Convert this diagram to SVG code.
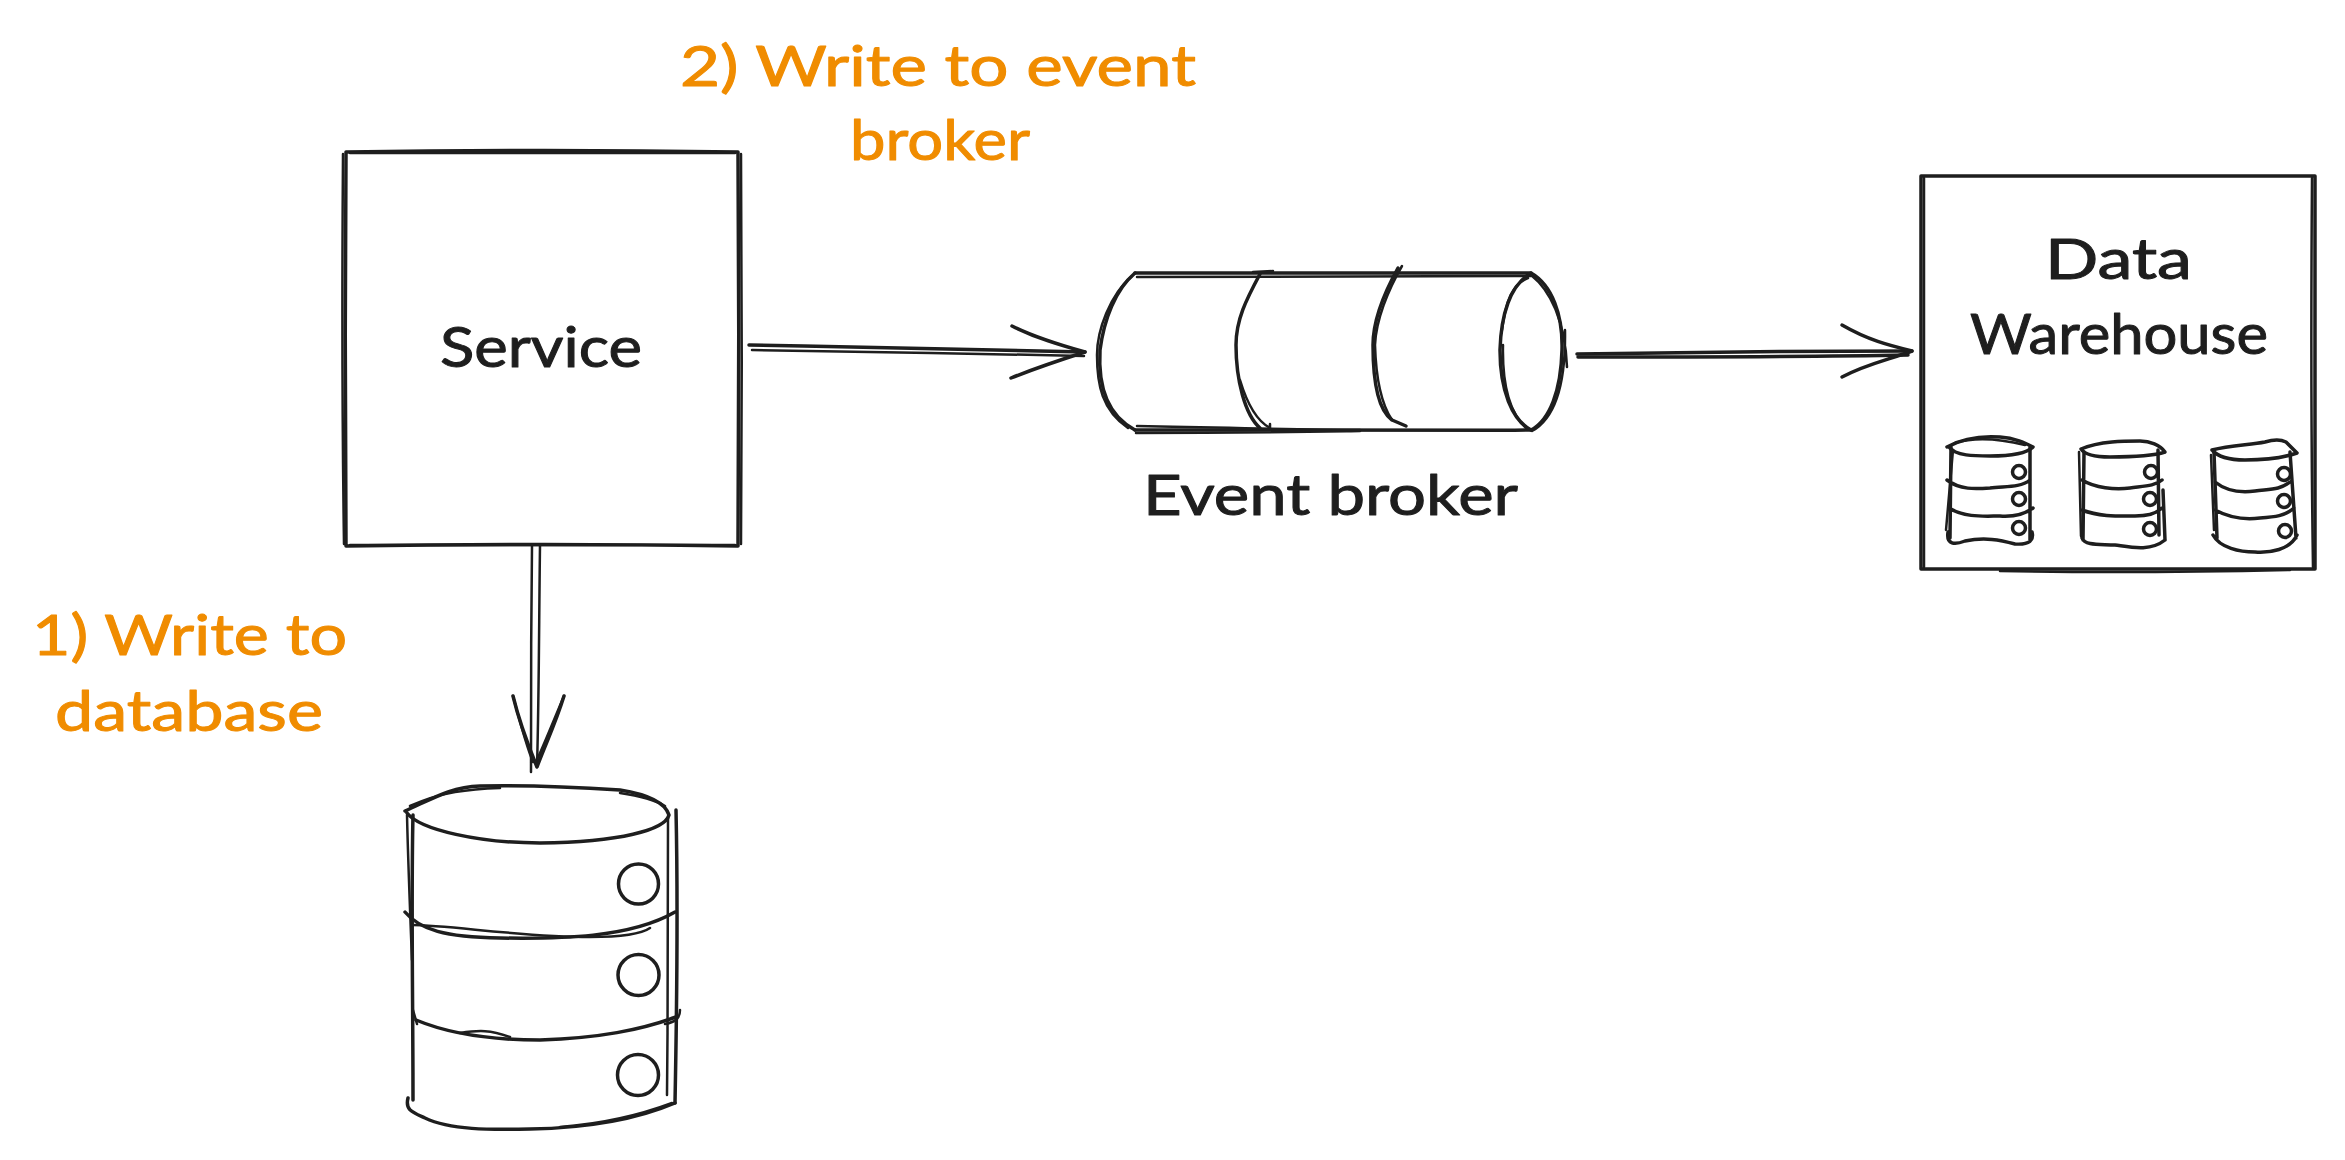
<svg xmlns="http://www.w3.org/2000/svg" width="2345" height="1160" viewBox="0 0 2345 1160">
<style>
.s{fill:none;stroke:#1e1e1e;stroke-width:3.500;stroke-linecap:round;stroke-linejoin:round}
.t{fill:none;stroke:#1e1e1e;stroke-width:2.500;stroke-linecap:round;stroke-linejoin:round}
text{font-family:"Lato","Noto Sans",sans-serif;font-size:56px;font-weight:400;stroke-width:1px;stroke-linejoin:round}
.k{fill:#1e1e1e;stroke:#1e1e1e}
.o{fill:#f08c00;stroke:#f08c00}
</style>
<rect width="2345" height="1160" fill="#ffffff"/>
<g id="connectors">
<path class="s" d="M749 345 C860 347 970 350 1085 352"/>
<path class="t" d="M752 350 C860 351 975 354 1084 356"/>
<path class="s" d="M1012 326 C1036 338 1060 345 1085 352 C1060 360 1036 368 1011 378"/>
<path class="s" d="M1577 354 C1690 352 1800 351 1912 351"/>
<path class="s" d="M1578 357 C1690 357 1800 357 1908 355"/>
<path class="s" d="M1842 325 C1868 340 1888 345 1912 351 C1888 360 1866 364 1842 377"/>
<path class="t" d="M532 546 C531 620 531 700 531 772"/>
<path class="t" d="M540 546 C539 620 539 700 537 767"/>
<path class="s" d="M513 696 C520 725 528 745 537 767 C545 745 555 725 564 696"/>
<path class="t" d="M513 696 C520 722 526 745 533 762 M564 696 C553 722 544 745 536 762"/>
</g>
<g id="service">
<path class="s" d="M346 152 C480 150 610 150 738 152 C739 280 739 420 738 546 C610 544 480 544 346 546 C345 420 345 280 346 152Z"/>
<path class="t" d="M343 154 C342 290 342 410 344 544 M741 154 C742 290 742 410 741 544 M350 153 C480 153 610 153 735 153 M350 545 C480 545 610 545 735 545"/>
<text class="k" x="440" y="367" textLength="202" lengthAdjust="spacingAndGlyphs">Service</text>
</g>
<g id="label-write-to-broker">
<text class="o" x="680" y="86" textLength="516" lengthAdjust="spacingAndGlyphs">2) Write to event</text>
<text class="o" x="850" y="160" textLength="180" lengthAdjust="spacingAndGlyphs">broker</text>
</g>
<g id="event-broker">
<path class="s" d="M1135 273 C1335 274 1430 273 1531 273 M1135 430 C1335 431 1430 431 1531 430"/>
<path class="t" d="M1137 277 C1335 276 1430 276 1531 276 M1137 426 C1250 428 1300 430 1360 430 M1136 433 C1250 433 1300 432 1360 431"/>
<path class="s" d="M1135 273 C1115 290 1104 320 1100 350 C1098 385 1106 415 1135 430"/>
<path class="t" d="M1132 276 C1110 295 1097 330 1097 355 C1097 385 1102 410 1128 428"/>
<path class="s" d="M1531 273 C1510 285 1501 315 1500 350 C1500 390 1512 420 1531 430 C1550 420 1561 390 1562 350 C1563 315 1552 285 1531 273Z"/>
<path class="t" d="M1531 275 C1550 290 1565 320 1567 367 M1528 278 C1512 285 1506 300 1502 330 M1565 330 C1566 390 1552 420 1532 431 M1503 345 C1502 390 1512 415 1526 428"/>
<path class="s" d="M1260 274 C1246 300 1236 320 1236 345 C1236 380 1245 415 1260 428"/>
<path class="t" d="M1253 272 L1273 271 M1240 380 C1246 400 1255 420 1270 428 L1270 424"/>
<path class="s" d="M1398 268 C1383 295 1373 320 1373 345 C1373 380 1378 410 1392 420 L1406 426"/>
<path class="t" d="M1402 266 C1388 290 1376 320 1375 345 C1376 380 1382 405 1392 420"/>
<text class="k" x="1143" y="515" textLength="375" lengthAdjust="spacingAndGlyphs">Event broker</text>
</g>
<g id="data-warehouse">
<path class="s" d="M1921 176 C2050 175 2180 175 2315 176 C2314 310 2314 440 2315 569 C2180 570 2050 570 1921 569 C1922 440 1922 310 1921 176Z"/>
<path class="t" d="M1924 178 C1923 310 1923 440 1924 567 M2000 571 C2100 573 2200 572 2290 570 M2312 178 C2311 310 2311 440 2313 567"/>
<text class="k" x="2045" y="279" textLength="147" lengthAdjust="spacingAndGlyphs">Data</text>
<text class="k" x="1970" y="354" textLength="298" lengthAdjust="spacingAndGlyphs">Warehouse</text>
<g id="dw-db-1">
<path class="s" d="M1947 447 C1965 437 1985 436 2000 437 C2015 438 2025 443 2033 447 C2025 455 2005 456 1990 456 C1975 456 1955 456 1949 447"/>
<path class="s" d="M1951 447 L1950 538 M2030 447 L2030 540 M1947 480 C1960 490 1975 489 1990 488 C2005 486 2020 488 2030 480 M1949 508 C1965 518 1985 516 2000 516 C2015 517 2025 514 2033 508 M1948 532 C1946 545 1955 545 1965 541 C1985 537 2000 540 2015 544 C2030 545 2034 540 2032 532"/>
<path class="t" d="M1955 443 C1975 437 2000 439 2025 445 M1946 530 L1953 450"/>
<circle class="s" cx="2019" cy="472" r="6.500"/><circle class="s" cx="2019" cy="499" r="6.500"/><circle class="s" cx="2019" cy="528" r="6.500"/>
</g>
<g id="dw-db-2">
<path class="s" d="M2081 449 C2100 441 2125 441 2140 441 C2150 441 2160 445 2165 452 C2150 457 2125 457 2110 457 C2095 457 2085 455 2081 449"/>
<path class="s" d="M2084 452 L2083 540 M2158 450 L2159 535 M2163 490 L2165 540 M2082 480 C2095 488 2115 490 2130 488 C2145 486 2155 486 2162 480 M2082 510 C2100 517 2120 516 2135 516 C2150 516 2158 512 2162 508 M2082 538 C2085 546 2100 544 2115 545 C2130 547 2150 552 2165 540"/>
<path class="t" d="M2079 452 L2081 536"/>
<circle class="s" cx="2151" cy="472" r="6.500"/><circle class="s" cx="2150" cy="499" r="6.500"/><circle class="s" cx="2150" cy="529" r="6.500"/>
</g>
<g id="dw-db-3">
<path class="s" d="M2212 450 C2230 445 2250 445 2265 442 C2275 439 2282 440 2286 442 L2297 453 C2280 459 2260 460 2245 460 C2230 460 2218 457 2212 450"/>
<path class="s" d="M2214 452 L2217 538 M2290 452 L2296 538 M2215 482 C2225 490 2240 493 2255 491 C2270 489 2280 490 2290 482 M2215 510 C2230 518 2245 520 2260 518 C2275 517 2285 516 2294 508 M2213 535 C2220 548 2240 552 2255 552 C2270 553 2290 550 2297 535"/>
<path class="t" d="M2211 455 L2214 530"/>
<circle class="s" cx="2284" cy="474" r="6.500"/><circle class="s" cx="2284" cy="501" r="6.500"/><circle class="s" cx="2285" cy="531" r="6.500"/>
</g>
</g>
<g id="label-write-to-database">
<text class="o" x="32" y="655" textLength="315" lengthAdjust="spacingAndGlyphs">1) Write to</text>
<text class="o" x="55" y="731" textLength="268" lengthAdjust="spacingAndGlyphs">database</text>
</g>
<g id="database">
<path class="s" d="M405 811 C430 800 450 787 480 786 C530 785 590 788 620 790 C645 794 665 802 669 815 C665 830 620 842 540 843 C480 843 420 830 407 813"/>
<path class="t" d="M410 806 C440 792 470 789 500 788 M620 793 C640 796 655 800 665 806"/>
<path class="s" d="M413 815 C411 900 413 1000 413 1100 M676 810 C678 900 677 1000 675 1103"/>
<path class="t" d="M407 815 C408 860 410 910 412 960 M668 818 C668 900 668 1000 667 1095"/>
<path class="s" d="M405 912 C420 930 445 937 500 938 C560 939 630 938 675 912"/>
<path class="t" d="M412 925 C450 925 520 937 590 937 C620 937 640 935 650 928"/>
<path class="s" d="M416 1020 C440 1030 480 1040 540 1040 C600 1038 640 1030 676 1017"/>
<path class="t" d="M413 1010 L417 1024 M680 1010 C680 1018 676 1022 665 1024 M460 1033 C480 1030 490 1030 510 1037"/>
<path class="s" d="M408 1098 C405 1110 412 1112 425 1118 C450 1130 490 1130 530 1129 C590 1128 640 1118 675 1103"/>
<path class="t" d="M560 1127 C600 1124 640 1115 672 1103"/>
<circle class="s" cx="638.500" cy="884" r="20"/><circle class="s" cx="638.500" cy="975" r="20.500"/><circle class="s" cx="638" cy="1075" r="20.500"/>
</g>
</svg>
